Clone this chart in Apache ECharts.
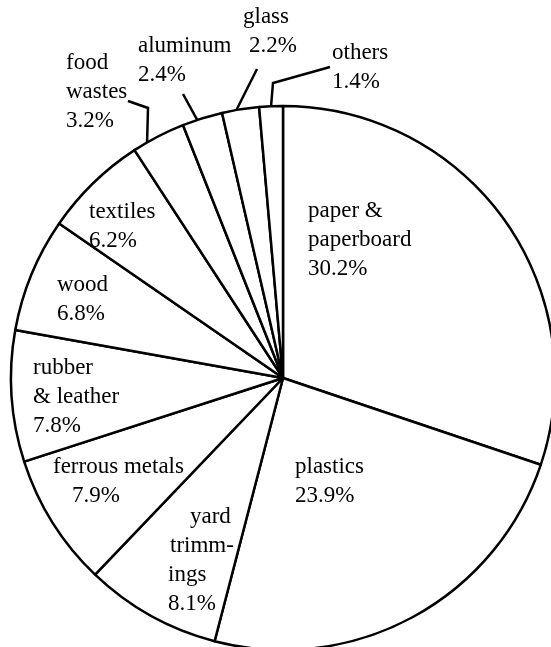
<!DOCTYPE html>
<html>
<head>
<meta charset="utf-8">
<script src="https://cdn.jsdelivr.net/npm/echarts@6/dist/echarts.min.js"></script>
<style>
  html, body { margin: 0; padding: 0; background: #fff; }
  #chart { width: 551px; height: 647px; }
</style>
</head>
<body>
<div id="chart"></div>
<script>
// ---- data ----
const categories = ['paper & paperboard', 'plastics', 'yard trimmings', 'ferrous metals',
  'rubber & leather', 'wood', 'textiles', 'food wastes', 'aluminum', 'glass', 'others'];
const values = [30.2, 23.9, 8.1, 7.9, 7.8, 6.8, 6.2, 3.2, 2.4, 2.2, 1.4];
// label text lines (as written on the chart)
const labelTexts = [
  ['paper &', 'paperboard'],
  ['plastics'],
  ['yard', 'trimm-', 'ings'],
  ['ferrous metals'],
  ['rubber', '& leather'],
  ['wood'],
  ['textiles'],
  ['food', 'wastes'],
  ['aluminum'],
  ['glass'],
  ['others']
];

// ---- layout (positions / styles only) ----
const CX = 283, CY = 378, R = 272;
const FONT = "'Liberation Serif', 'Times New Roman', serif";
const FS = 23, LH = 29;
// label block top-left, per-line indent, and leader-line config for outside labels
const labelLayoutCfg = [
  { x: 308, y: 196, indent: [0, 0, 0] },
  { x: 295, y: 452, indent: [0, 0] },
  { x: 168, y: 502, indent: [22, 2, 0, 0] },
  { x: 53,  y: 452, indent: [0, 19] },
  { x: 33,  y: 353, indent: [0, 0, 0] },
  { x: 57,  y: 270, indent: [0, 0] },
  { x: 89,  y: 197, indent: [0, 0] },
  { x: 66,  y: 48,  indent: [0, 0, 0], anchor: 0.27, guide: [[148, 108], [128, 101]] },
  { x: 138, y: 31,  indent: [0, 0], anchor: 0.37, guide: [[183, 94]] },
  { x: 243, y: 2,   indent: [0, 6], anchor: 0.39, guide: [[257, 69]] },
  { x: 332, y: 38,  indent: [0, 0], anchor: 0.5,  guide: [[273, 83], [330, 67]] }
];

const rich = {};
labelLayoutCfg.forEach(c => c.indent.forEach(p => {
  rich['i' + p] = { fontFamily: FONT, fontSize: FS, lineHeight: LH, color: '#000', padding: [0, 0, 0, p] };
}));

const total = values.reduce((a, b) => a + b, 0);
const cum = [];
values.reduce((acc, v, i) => { cum[i] = acc; return acc + v; }, 0);

function arcPoint(i, frac) {
  const a = (cum[i] + values[i] * frac) / total * 2 * Math.PI;
  return [CX + R * Math.sin(a), CY - R * Math.cos(a)];
}

const seriesData = categories.map((name, i) => {
  const outside = labelLayoutCfg[i].guide != null;
  return {
    name: name,
    value: values[i],
    label: { position: outside ? 'outside' : 'inside' },
    labelLine: { show: outside }
  };
});

const chart = echarts.init(document.getElementById('chart'), null, { renderer: 'canvas' });
chart.setOption({
  animation: false,
  backgroundColor: '#fff',
  series: [{
    type: 'pie',
    center: [CX, CY],
    radius: R,
    startAngle: 90,
    clockwise: true,
    avoidLabelOverlap: false,
    silent: true,
    itemStyle: { color: '#fff', borderColor: '#000', borderWidth: 2.5 },
    label: {
      show: true,
      fontFamily: FONT,
      fontSize: FS,
      lineHeight: LH,
      color: '#000',
      formatter: function (p) {
        const lines = labelTexts[p.dataIndex].concat([values[p.dataIndex].toFixed(1) + '%']);
        const ind = labelLayoutCfg[p.dataIndex].indent;
        return lines.map((ln, k) => '{i' + ind[k] + '|' + ln + '}').join('\n');
      },
      rich: rich
    },
    labelLine: {
      show: true,
      length: 10,
      length2: 10,
      lineStyle: { color: '#000', width: 2.5 }
    },
    labelLayout: function (params) {
      const c = labelLayoutCfg[params.dataIndex];
      const res = { x: c.x, y: c.y, align: 'left', verticalAlign: 'top' };
      if (c.guide) {
        res.labelLinePoints = [arcPoint(params.dataIndex, c.anchor)].concat(c.guide);
      }
      return res;
    },
    data: seriesData
  }]
});
</script>
</body>
</html>
